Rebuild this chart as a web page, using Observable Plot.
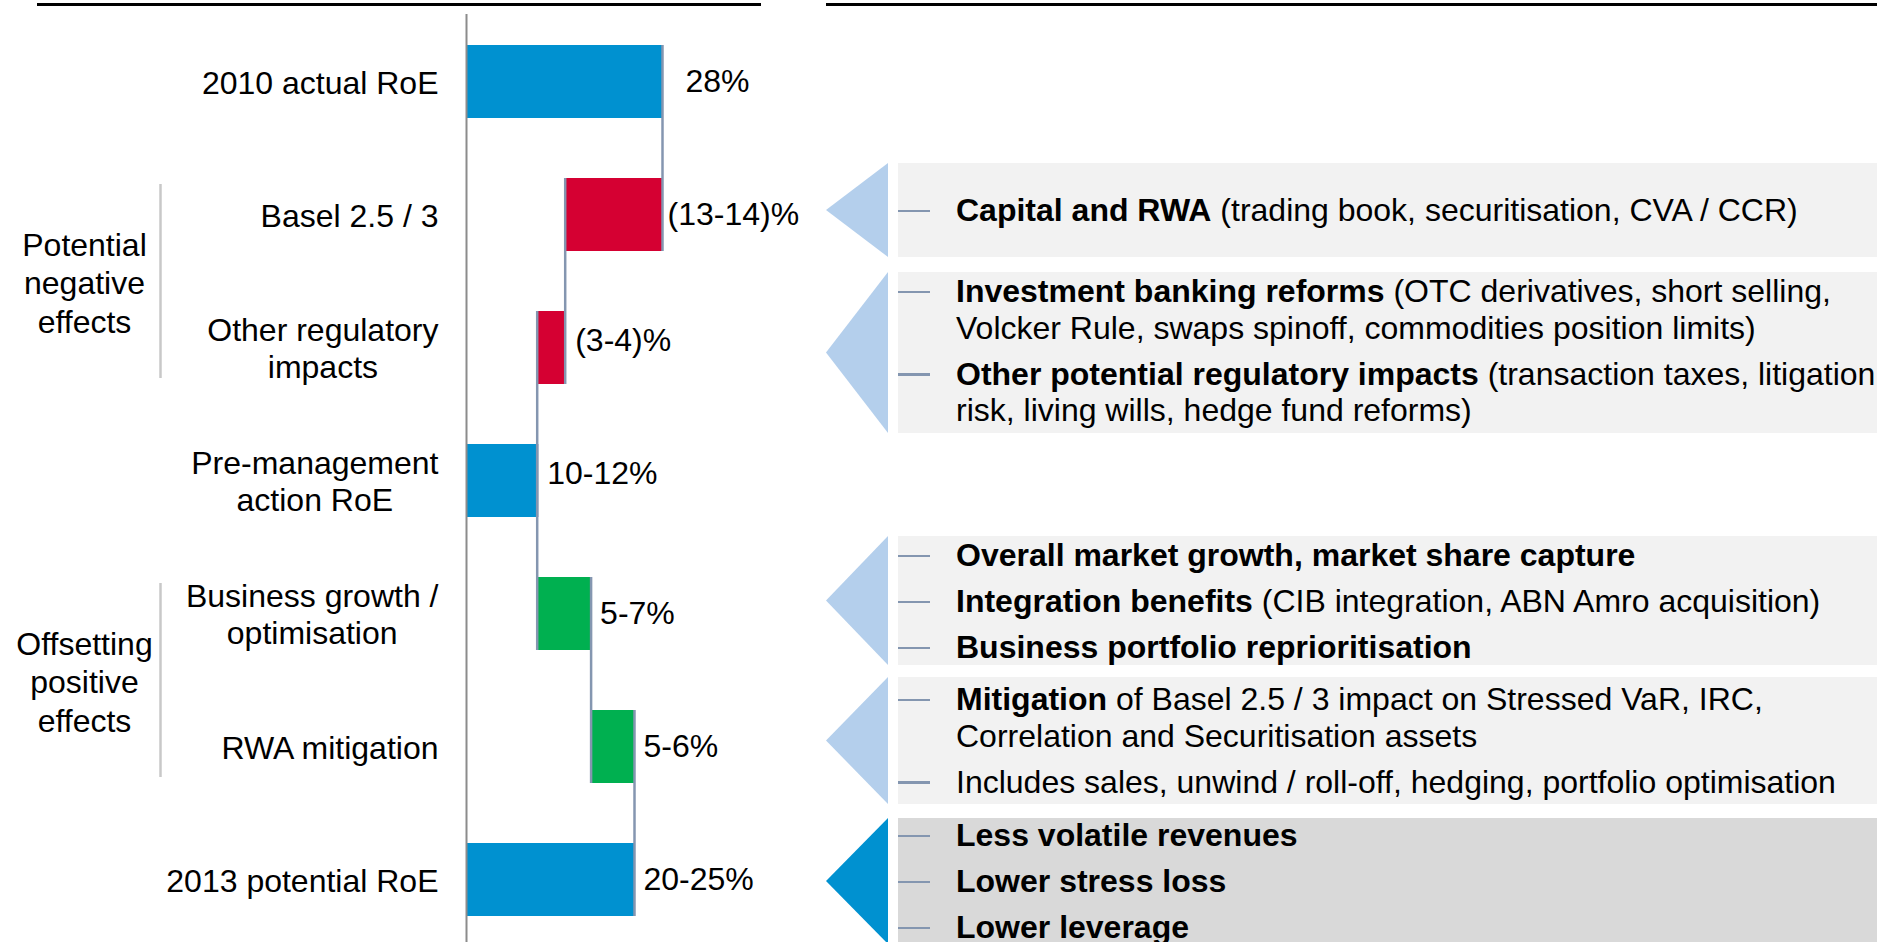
<!DOCTYPE html>
<html>
<head>
<meta charset="utf-8">
<script src="https://cdn.jsdelivr.net/npm/d3@7"></script>
<script src="https://cdn.jsdelivr.net/npm/@observablehq/plot@0.6"></script>
<style>
  html, body { margin: 0; padding: 0; overflow: hidden; background: #fff; }
  #root { position: relative; width: 1877px; height: 942px; overflow: hidden; font-family: "Liberation Sans", Arial, sans-serif; }
  #root svg { position: absolute; left: 0; top: 0; }
  .rule { position: absolute; height: 3px; background: #000; }
  .tri { position: absolute; clip-path: polygon(0 50%, 100% 0, 100% 100%); }
  .panel { position: absolute; box-sizing: border-box; overflow: hidden; }
  .item { position: relative; top: -2.5px; padding-left: 58px; font-size: 32px; line-height: 36.5px; white-space: nowrap; color: #000; }
  .item + .item { margin-top: 9.5px; }
  .dash { position: absolute; left: 0; top: 17.5px; width: 32px; height: 2.5px; background: #8496b0; }
</style>
</head>
<body>
<div id="root"></div>
<script>
// ---------- data ----------
const categories = [
  "2010 actual RoE",
  "Basel 2.5 / 3",
  "Other regulatory\nimpacts",
  "Pre-management\naction RoE",
  "Business growth /\noptimisation",
  "RWA mitigation",
  "2013 potential RoE"
];
const barKinds = ["total", "decrease", "decrease", "total", "increase", "increase", "total"];
const barValues = [28, -13.9, -4, 10.1, 7.7, 6.2, 24];
const valueLabels = ["28%", "(13-14)%", "(3-4)%", "10-12%", "5-7%", "5-6%", "20-25%"];

const groupNames = ["Potential\nnegative\neffects", "Offsetting\npositive\neffects"];
const groupFirst = ["Basel 2.5 / 3", "Business growth /\noptimisation"];
const groupLast = ["Other regulatory\nimpacts", "RWA mitigation"];

// annotation panels: each item = [bold part, regular part]
const noteItems = [
  [["Capital and RWA", " (trading book, securitisation, CVA / CCR)"]],
  [["Investment banking reforms", " (OTC derivatives, short selling,\nVolcker Rule, swaps spinoff, commodities position limits)"],
   ["Other potential regulatory impacts", " (transaction taxes, litigation\nrisk, living wills, hedge fund reforms)"]],
  [["Overall market growth, market share capture", ""],
   ["Integration benefits", " (CIB integration, ABN Amro acquisition)"],
   ["Business portfolio reprioritisation", ""]],
  [["Mitigation", " of Basel 2.5 / 3 impact on Stressed VaR, IRC,\nCorrelation and Securitisation assets"],
   ["", "Includes sales, unwind / roll-off, hedging, portfolio optimisation"]],
  [["Less volatile revenues", ""], ["Lower stress loss", ""], ["Lower leverage", ""]]
];

// ---------- layout / style ----------
const kindColors = {domain: ["total", "decrease", "increase"], range: ["#0091d0", "#d50032", "#00b050"]};
const panelTop = [163, 272, 536, 677, 818];
const panelHeight = [94, 161, 129, 127, 126];
const panelPadTop = [31.75, 3.75, 3.75, 6.75, 1.75];
const panelBg = ["#f2f2f2", "#f2f2f2", "#f2f2f2", "#f2f2f2", "#d9d9d9"];
const arrowColor = ["#b4cfec", "#b4cfec", "#b4cfec", "#b4cfec", "#0091d0"];

// ---------- derived waterfall table ----------
let running = 0;
const rows = categories.map((c, i) => {
  const v = barValues[i];
  let x1, x2;
  if (barKinds[i] === "total") { x1 = 0; x2 = v; }
  else { x1 = running; x2 = running + v; }
  running = x2;
  return {i, category: c, kind: barKinds[i], x1, x2, end: x2, right: Math.max(x1, x2), label: valueLabels[i]};
});
const connectors = rows.slice(0, -1).map((r, i) => ({x: r.end, from: r.category, to: rows[i + 1].category}));
const groups = groupNames.map((name, i) => ({name, first: groupFirst[i], last: groupLast[i]}));

const font = "Liberation Sans, Arial, sans-serif";

const plot = Plot.plot({
  width: 1877,
  height: 942,
  marginLeft: 466,
  marginRight: 1215,
  marginTop: 14,
  marginBottom: 0,
  style: {fontFamily: font, fontSize: "32px", color: "#000", background: "transparent"},
  x: {domain: [0, 28], axis: null},
  y: {domain: categories, range: [14, 947], paddingInner: 0.45, paddingOuter: 0.225, axis: null},
  color: kindColors,
  marks: [
    Plot.barX(rows, {y: "category", x1: "x1", x2: "x2", fill: "kind"}),
    Plot.ruleX([0], {stroke: "#8c8c8c", strokeWidth: 2}),
    Plot.ruleX(connectors, {x: "x", y1: "from", y2: "to", stroke: "#8496b0", strokeWidth: 2.5}),
    // category labels (the only end-anchored text mark)
    Plot.text(rows, {y: "category", x: 0, text: "category", textAnchor: "end", dx: -28,
      fontSize: 32, lineHeight: 1.14, fill: "#000"}),
    // value labels
    Plot.text(rows.filter(d => d.i === 0), {y: "category", x: "right", text: "label", textAnchor: "start", dx: 23, fontSize: 32, fill: "#000"}),
    Plot.text(rows.filter(d => d.i === 1), {y: "category", x: "right", text: "label", textAnchor: "start", dx: 5, fontSize: 32, fill: "#000"}),
    Plot.text(rows.filter(d => d.i === 2 || d.i === 3), {y: "category", x: "right", text: "label", textAnchor: "start", dx: 10, dy: -7, fontSize: 32, fill: "#000"}),
    Plot.text(rows.filter(d => d.i >= 4), {y: "category", x: "right", text: "label", textAnchor: "start", dx: 9, fontSize: 32, fill: "#000"}),
    // group brackets and labels
    Plot.ruleX(groups, {x: 0, y1: "first", y2: "last", dx: -306, insetTop: 6, insetBottom: 6, stroke: "#c8c8c8", strokeWidth: 2.5}),
    Plot.text(groups, {x: 0, y: "first", text: "name", dx: -382, dy: 67, textAnchor: "middle",
      lineHeight: 1.2, fontSize: 32, fill: "#000"})
  ]
});

const root = document.getElementById("root");
root.appendChild(plot);

// center the lines of multi-line category labels within their block (block stays right-aligned)
plot.querySelectorAll("text").forEach(t => {
  const spans = t.querySelectorAll("tspan");
  if (spans.length < 2) return;
  if (getComputedStyle(t).textAnchor !== "end") return;
  const w = t.getBBox().width;
  t.setAttribute("text-anchor", "middle");
  t.style.textAnchor = "middle";
  spans.forEach(s => s.setAttribute("x", -w / 2));
});

// top rules
[[37, 724], [826, 1051]].forEach(([l, w]) => {
  const r = document.createElement("div");
  r.className = "rule";
  r.style.left = l + "px"; r.style.top = "3px"; r.style.width = w + "px";
  root.appendChild(r);
});

// annotation panels
noteItems.forEach((items, k) => {
  const tri = document.createElement("div");
  tri.className = "tri";
  Object.assign(tri.style, {left: "826px", top: panelTop[k] + "px", width: "62px", height: panelHeight[k] + "px", background: arrowColor[k]});
  root.appendChild(tri);

  const box = document.createElement("div");
  box.className = "panel";
  Object.assign(box.style, {left: "898px", top: panelTop[k] + "px", width: "979px", height: panelHeight[k] + "px",
    background: panelBg[k], paddingTop: panelPadTop[k] + "px"});
  items.forEach(([bold, rest]) => {
    const it = document.createElement("div");
    it.className = "item";
    const dash = document.createElement("span");
    dash.className = "dash";
    it.appendChild(dash);
    if (bold) {
      const b = document.createElement("b");
      b.textContent = bold;
      it.appendChild(b);
    }
    rest.split("\n").forEach((line, j) => {
      if (j > 0) it.appendChild(document.createElement("br"));
      it.appendChild(document.createTextNode(line));
    });
    box.appendChild(it);
  });
  root.appendChild(box);
});
</script>
</body>
</html>
